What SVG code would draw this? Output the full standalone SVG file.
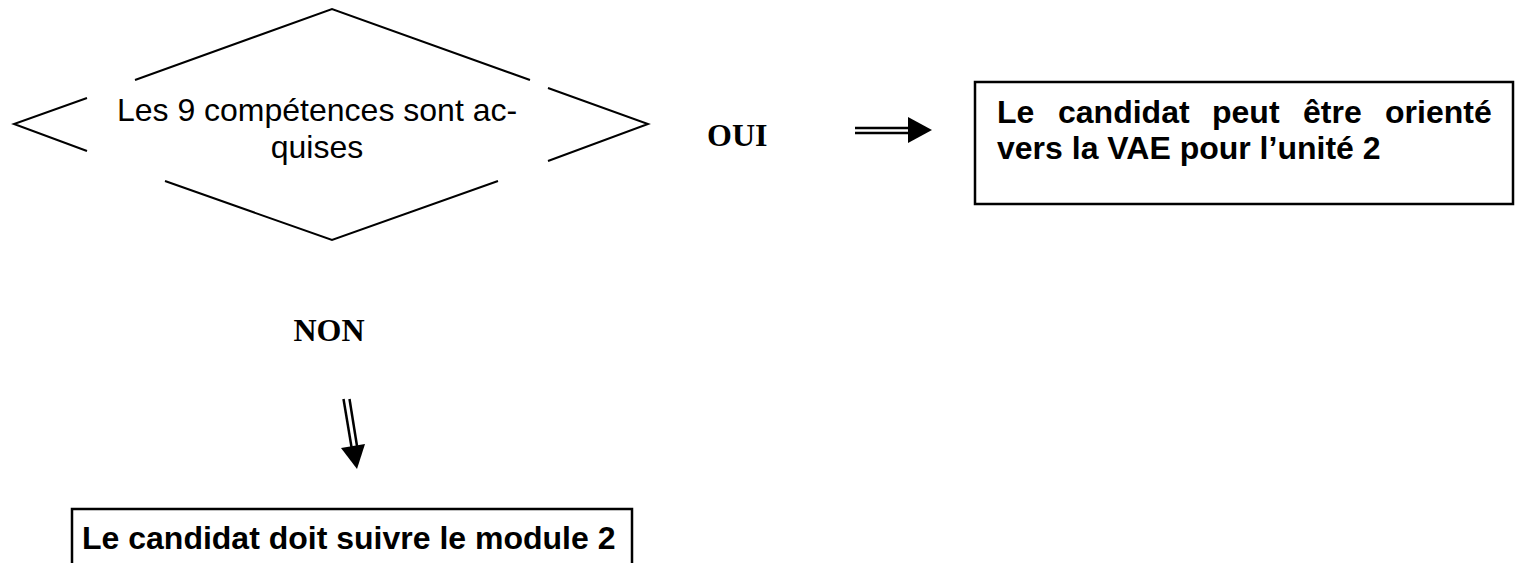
<svg xmlns="http://www.w3.org/2000/svg" width="1517" height="563" viewBox="0 0 1517 563">
<style>
.edge{fill:none;stroke:#000;stroke-width:2;stroke-linejoin:miter}
.box{fill:#fff;stroke:#000;stroke-width:2.5}
.t{font-family:"Liberation Sans",Arial,sans-serif;font-size:32px;fill:#000}
.b{font-weight:bold}
.lab{font-family:"Liberation Serif","Times New Roman",serif;font-size:32px;font-weight:bold;fill:#000}
.shaft{stroke:#000;stroke-width:2.5;fill:none}
</style>
<rect width="1517" height="563" fill="#fff"/>
<g id="decision">
<polyline class="edge" points="87,98 14,124 87,151"/>
<polyline class="edge" points="135,80 332,9 530,80"/>
<polyline class="edge" points="548,88 648,124 548,161"/>
<polyline class="edge" points="165,181 332,240 498,181"/>
<text class="t" text-anchor="middle" x="317" y="121">Les 9 compétences sont ac-</text>
<text class="t" text-anchor="middle" x="317" y="158">quises</text>
</g>
<g id="box-oui">
<rect class="box" x="975" y="82" width="538" height="122"/>
<text class="t b" y="123"><tspan x="997">Le</tspan><tspan x="1058">candidat</tspan><tspan x="1212">peut</tspan><tspan x="1303">être</tspan><tspan x="1385">orienté</tspan></text>
<text class="t b" x="997" y="159">vers la VAE pour l’unité 2</text>
</g>
<g id="box-non">
<rect class="box" x="72" y="509" width="560" height="70"/>
<text class="t b" x="82" y="549">Le candidat doit suivre le module 2</text>
</g>
<g id="connectors">
<text class="lab" x="707" y="146">OUI</text>
<line class="shaft" x1="855" y1="128" x2="910" y2="128"/>
<line class="shaft" x1="855" y1="133" x2="910" y2="133"/>
<polygon points="908,117 908,143 932,130" fill="#000"/>
<text class="lab" x="329" y="341" text-anchor="middle">NON</text>
<line class="shaft" x1="343.5" y1="399" x2="351.5" y2="447"/>
<line class="shaft" x1="349.5" y1="399" x2="357" y2="446"/>
<polygon points="341,448 365,444 357,469" fill="#000"/>
</g>
</svg>
